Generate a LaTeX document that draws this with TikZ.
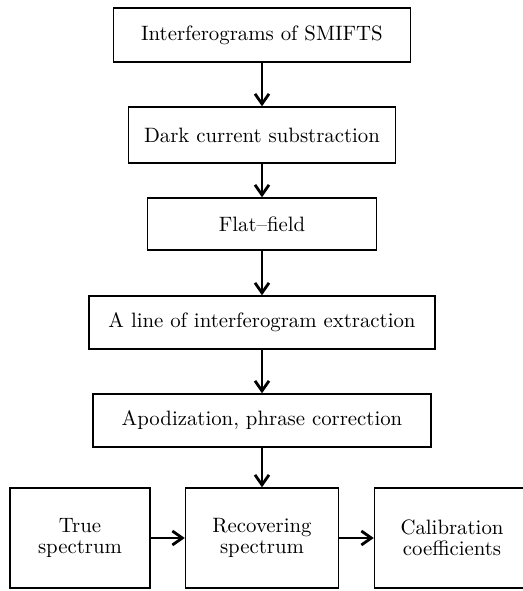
\documentclass[tikz,border=0pt]{standalone}
\usetikzlibrary{arrows.meta}
\begin{document}
\begin{tikzpicture}[x=0.5pt, y=-0.5pt,
    stagebox/.style={draw, line width=0.7pt, inner sep=0pt, align=center, font=\fontsize{10.4}{10.6}\selectfont},
    flowarrow/.style={line width=1.4pt, -{Straight Barb[length=5pt, width=7pt]}}]
    \useasboundingbox (0,0) rectangle (523,591);
    \clip (0,0) rectangle (523,591);

    \node[stagebox, minimum width=148.5pt, minimum height=27pt] (interf) at (262,35) {Interferograms of SMIFTS};
    \node[stagebox, minimum width=133.5pt, minimum height=28pt] (dark) at (262,135) {Dark current substraction};
    \node[stagebox, minimum width=114.5pt, minimum height=26pt] (flat) at (262,224) {Flat--field};
    \node[stagebox, minimum width=173pt, minimum height=26.5pt] (line) at (262,322.5) {A line of interferogram extraction};
    \node[stagebox, minimum width=169pt, minimum height=26.5pt] (apod) at (262,420.5) {Apodization, phrase correction};

    \node[stagebox, minimum width=70pt, minimum height=50pt] (true) at (80,538) {True\\spectrum};
    \node[stagebox, minimum width=76.5pt, minimum height=50pt] (recov) at (262,538) {Recovering\\spectrum};
    \node[stagebox, minimum width=77.5pt, minimum height=50pt] (calib) at (452,538) {Calibration\\coefficients};

    \draw[flowarrow] (interf) -- (dark);
    \draw[flowarrow] (dark) -- (flat);
    \draw[flowarrow] (flat) -- (line);
    \draw[flowarrow] (line) -- (apod);
    \draw[flowarrow] (apod) -- (recov);
    \draw[flowarrow] (true) -- (recov);
    \draw[flowarrow] (recov) -- (calib);
\end{tikzpicture}
\end{document}
